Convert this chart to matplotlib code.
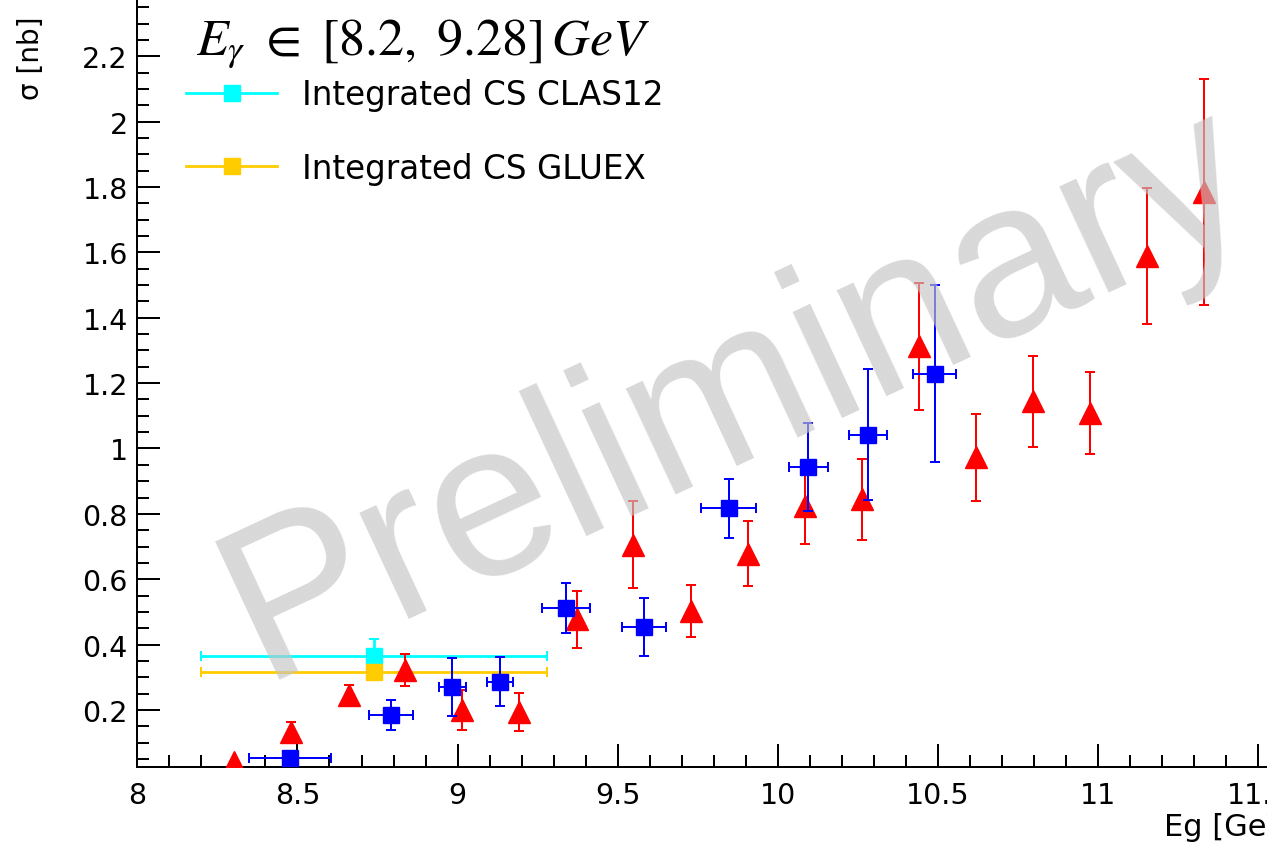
import numpy as np
import matplotlib
matplotlib.use("Agg")
import matplotlib.pyplot as plt
from matplotlib.lines import Line2D
from matplotlib.ticker import MultipleLocator, FuncFormatter

plt.rcParams["font.family"] = "DejaVu Sans"
plt.rcParams["mathtext.fontset"] = "stix"

# photon energy bins (GeV) and cross sections (nb)
blue_x = [8.477, 8.792, 8.984, 9.133, 9.337, 9.582, 9.846, 10.095, 10.282, 10.490]
blue_y = [0.052, 0.185, 0.270, 0.287, 0.512, 0.454, 0.817, 0.944, 1.042, 1.229]
blue_xerr = [0.127, 0.069, 0.043, 0.040, 0.075, 0.069, 0.086, 0.060, 0.060, 0.067]
blue_yerr = [0.020, 0.046, 0.089, 0.075, 0.075, 0.089, 0.090, 0.135, 0.200, 0.270]

red_x = [8.302, 8.480, 8.660, 8.837, 9.015, 9.193, 9.372, 9.549, 9.728,
         9.906, 10.084, 10.262, 10.440, 10.619, 10.798, 10.975, 11.153, 11.331]
red_y = [0.041, 0.134, 0.246, 0.322, 0.200, 0.195, 0.478, 0.706, 0.502,
         0.678, 0.823, 0.845, 1.312, 0.973, 1.144, 1.108, 1.588, 1.784]
red_yerr = [0.0, 0.030, 0.030, 0.048, 0.060, 0.058, 0.087, 0.134, 0.080,
            0.100, 0.115, 0.124, 0.193, 0.134, 0.140, 0.126, 0.208, 0.345]

# integrated cross sections over E_gamma in [8.2, 9.28]
int_lo, int_hi = 8.2, 9.28
clas12_cs, clas12_err = 0.364, 0.053
gluex_cs, gluex_err = 0.316, 0.020

fig = plt.figure(figsize=(12.67, 8.45), dpi=100)
ax = fig.add_axes([137.3 / 1267, 77 / 845, 1281.2 / 1267, 772.9 / 845])
ax.set_xlim(8, 12)
ax.set_ylim(0.0256, 2.39)

lw = 1.44
int_x = 0.5 * (int_lo + int_hi)
ax.errorbar([int_x], [clas12_cs], xerr=[0.5 * (int_hi - int_lo)], yerr=[clas12_err],
            fmt="s", color="#00ffff", ms=11.5, elinewidth=2.0, capsize=3.5, capthick=lw, zorder=2)
ax.errorbar([int_x], [gluex_cs], xerr=[0.5 * (int_hi - int_lo)], yerr=[gluex_err],
            fmt="s", color="#ffcc00", ms=11.5, elinewidth=2.0, capsize=3.5, capthick=lw, zorder=2)
ax.errorbar(red_x, red_y, yerr=red_yerr, fmt="^", color="red", ms=16.5,
            elinewidth=lw, capsize=3.5, capthick=lw, zorder=3)
ax.errorbar(blue_x, blue_y, xerr=blue_xerr, yerr=blue_yerr, fmt="s", color="blue", ms=11.5,
            elinewidth=lw, capsize=3.5, capthick=lw, zorder=4)

# ROOT-like axes: ticks inside, only left and bottom frame in view
for side in ["top", "right"]:
    ax.spines[side].set_visible(False)
for side in ["left", "bottom"]:
    ax.spines[side].set_linewidth(lw)
ax.xaxis.set_major_locator(MultipleLocator(0.5))
ax.xaxis.set_minor_locator(MultipleLocator(0.1))
ax.yaxis.set_major_locator(MultipleLocator(0.2))
ax.yaxis.set_minor_locator(MultipleLocator(0.05))
fmt = FuncFormatter(lambda v, p: "%g" % round(v, 2))
ax.xaxis.set_major_formatter(fmt)
ax.yaxis.set_major_formatter(fmt)
ax.tick_params(which="both", direction="in", width=lw, labelsize=20.5)
ax.tick_params(which="major", length=16.6)
ax.tick_params(which="minor", length=8.6)
ax.tick_params(axis="x", pad=10)
ax.tick_params(axis="y", pad=6.7)

fig.text(31 / 1267, 1 - 17 / 845, "σ [nb]", rotation=90, ha="center", va="top", fontsize=20)
fig.text(1164 / 1267, 9 / 845, "Eg [GeV]", ha="left", va="baseline", fontsize=22)
fig.text(196 / 1267, 1 - 55 / 845, r"$E_{\gamma}\ \in\ [8.2,\ 9.28]\,GeV$", ha="left",
         va="baseline", fontsize=37.5)

handles = [Line2D([], [], color="#00ffff", marker="s", ms=11.5, lw=2.0),
           Line2D([], [], color="#ffcc00", marker="s", ms=11.5, lw=2.0)]
ax.legend(handles, ["Integrated CS CLAS12", "Integrated CS GLUEX"], loc="upper left",
          bbox_to_anchor=(186 / 1267, 1 - 79 / 845), bbox_transform=fig.transFigure,
          frameon=False, fontsize=23.5, handlelength=2.8, handletextpad=0.74,
          labelspacing=1.25, borderpad=0, borderaxespad=0)

ax.text(8.387, 0.298, "Preliminary", fontsize=158.9, rotation=25, rotation_mode="anchor",
        ha="left", va="baseline", color="#c4c4c4", alpha=0.65, family="Liberation Sans",
        zorder=10)

fig.savefig("out.png", dpi=100)
